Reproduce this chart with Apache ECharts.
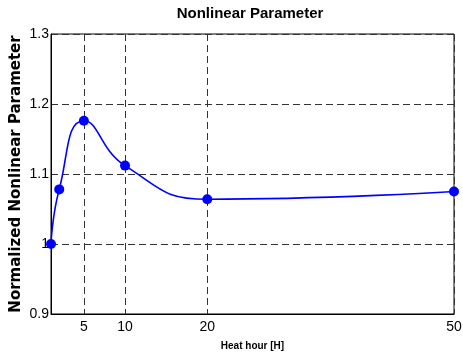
<!DOCTYPE html>
<html>
<head>
<meta charset="utf-8">
<script src="https://cdn.jsdelivr.net/npm/echarts@6/dist/echarts.min.js"></script>
<style>
html,body{margin:0;padding:0;background:#fff;}
#chart{width:463px;height:353px;}
</style>
</head>
<body>
<div id="chart"></div>
<script>
var titleText = 'Nonlinear Parameter';
var xName = 'Heat hour [H]';
var yName = 'Normalized Nonlinear Parameter';
var heatHours = [1, 2, 5, 10, 20, 50];
var nonlinear = [1.000, 1.078, 1.176, 1.112, 1.064, 1.075];
var xTicks = [5, 10, 20, 50];
var yTicks = [0.9, 1.0, 1.1, 1.2, 1.3];

var font = 'Liberation Sans, Arial, sans-serif';
var chart = echarts.init(document.getElementById('chart'), null, {renderer: 'canvas'});
var points = heatHours.map(function (x, i) { return [x, nonlinear[i]]; });
var dash = {color: '#333', width: 1, type: [7, 4]};

chart.setOption({
  animation: false,
  backgroundColor: '#fff',
  title: {
    text: titleText, left: 245, top: 1, textAlign: 'center',
    textStyle: {fontFamily: font, fontWeight: 'bold', fontSize: 15, color: '#000'}
  },
  grid: {left: 51, right: 9, top: 34, bottom: 39, show: true, borderColor: '#000', borderWidth: 1,
    containLabel: false, outerBoundsMode: 'none'},
  xAxis: {
    type: 'value', min: 1, max: 50,
    name: xName, nameLocation: 'middle', nameGap: 27, nameMoveOverlap: false,
    nameTextStyle: {fontFamily: font, fontWeight: 'bold', fontSize: 10, color: '#000'},
    axisLine: {show: true, lineStyle: {color: '#000', width: 1}},
    axisTick: {show: false, customValues: xTicks},
    axisLabel: {customValues: xTicks, fontFamily: font, fontSize: 14, color: '#000', margin: 6},
    splitLine: {show: true, lineStyle: dash}
  },
  yAxis: {
    type: 'value', min: 0.9, max: 1.3, interval: 0.1,
    name: yName, nameLocation: 'middle', nameGap: 27, nameRotate: 90, nameMoveOverlap: false,
    nameTextStyle: {fontFamily: 'DejaVu Sans, sans-serif', fontWeight: 'bold', fontSize: 15, color: '#000'},
    axisLine: {show: true, lineStyle: {color: '#000', width: 1}},
    axisTick: {show: false},
    axisLabel: {fontFamily: font, fontSize: 14, color: '#000', margin: 2,
      formatter: function (v) { return String(parseFloat(v.toFixed(1))); }},
    splitLine: {show: true, lineStyle: dash}
  },
  series: [{
    type: 'line', data: points, smooth: 0.5,
    symbol: 'circle', symbolSize: 10,
    lineStyle: {color: '#0000ff', width: 1.6},
    itemStyle: {color: '#0000ff'},
    clip: false
  }]
});
</script>
</body>
</html>
